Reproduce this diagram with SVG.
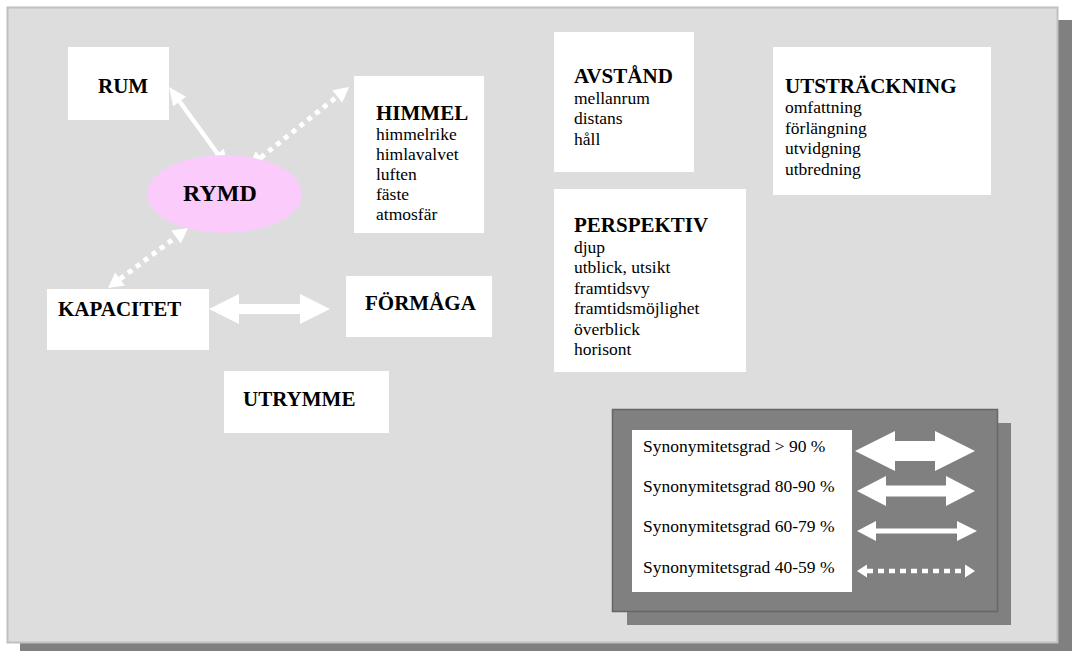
<svg xmlns="http://www.w3.org/2000/svg" width="1075" height="659" viewBox="0 0 1075 659">
<style>
.box{fill:#ffffff}
.b{font-family:"Liberation Serif","Times New Roman",serif;font-weight:bold;font-size:21px;fill:#000}
.t{font-family:"Liberation Serif","Times New Roman",serif;font-size:17.5px;fill:#000}
.arr{fill:#ffffff}
.ln{stroke:#ffffff;fill:none}
.dot{stroke:#ffffff;fill:none;stroke-width:5;stroke-dasharray:5 5}
</style>
<defs>
<marker id="hThin" markerUnits="userSpaceOnUse" markerWidth="20" markerHeight="20" viewBox="0 -10 18 20" refX="0" refY="0" orient="auto-start-reverse">
<path d="M0,-8 L18,0 L0,8 Z" fill="#ffffff"/>
</marker>
<marker id="hDot" markerUnits="userSpaceOnUse" markerWidth="20" markerHeight="20" viewBox="0 -10 15 20" refX="0" refY="0" orient="auto-start-reverse">
<path d="M0,-8 L15,0 L0,8 Z" fill="#ffffff"/>
</marker>
<marker id="hSmall" markerUnits="userSpaceOnUse" markerWidth="12" markerHeight="16" viewBox="0 -8 10 16" refX="0" refY="0" orient="auto-start-reverse">
<path d="M0,-6.5 L10,0 L0,6.5 Z" fill="#ffffff"/>
</marker>
</defs>

<!-- background panel -->
<rect x="20" y="20" width="1052" height="631" fill="#808080"/>
<rect x="7.5" y="7.5" width="1050" height="635" fill="#dddddd" stroke="#c0c0c0" stroke-width="2"/>

<g id="connectors">
<path class="ln" stroke-width="4.5" d="M179.6,101.5 L217.4,153.5" marker-start="url(#hThin)" marker-end="url(#hThin)"/>
<path class="dot" d="M260.7,157.6 L337.3,96.4" marker-start="url(#hDot)" marker-end="url(#hDot)"/>
<path class="dot" d="M120,279 L176,237" marker-start="url(#hDot)" marker-end="url(#hDot)"/>
<polygon class="arr" points="209,309 239,294 239,304 300,304 300,294 330,309 300,324 300,314 239,314 239,324"/>
</g>

<g id="node-rum">
<rect class="box" x="68" y="47" width="101" height="73"/>
<text class="b" x="98" y="93">RUM</text>
</g>

<g id="node-rymd">
<ellipse cx="224.5" cy="194" rx="77.5" ry="39" fill="#fbccfb"/>
<text class="b" x="183" y="201" style="font-size:24px">RYMD</text>
</g>

<g id="node-himmel">
<rect class="box" x="354" y="76" width="130" height="157"/>
<text class="b" x="376" y="120">HIMMEL</text>
<text class="t" x="376" y="140">himmelrike</text>
<text class="t" x="376" y="160">himlavalvet</text>
<text class="t" x="376" y="180">luften</text>
<text class="t" x="376" y="200">fäste</text>
<text class="t" x="376" y="220">atmosfär</text>
</g>

<g id="node-kapacitet">
<rect class="box" x="47" y="289" width="162" height="61"/>
<text class="b" x="58" y="316">KAPACITET</text>
</g>

<g id="node-formaga">
<rect class="box" x="346" y="276" width="146" height="61"/>
<text class="b" x="365" y="310">FÖRMÅGA</text>
</g>

<g id="node-utrymme">
<rect class="box" x="224" y="371" width="165" height="62"/>
<text class="b" x="243" y="406">UTRYMME</text>
</g>

<g id="node-avstand">
<rect class="box" x="554" y="32" width="140" height="140"/>
<text class="b" x="574" y="83">AVSTÅND</text>
<text class="t" x="574" y="104">mellanrum</text>
<text class="t" x="574" y="124">distans</text>
<text class="t" x="574" y="144.5">håll</text>
</g>

<g id="node-utstrackning">
<rect class="box" x="773" y="47" width="218" height="148"/>
<text class="b" x="785" y="93">UTSTRÄCKNING</text>
<text class="t" x="785" y="113">omfattning</text>
<text class="t" x="785" y="133.5">förlängning</text>
<text class="t" x="785" y="154">utvidgning</text>
<text class="t" x="785" y="174.5">utbredning</text>
</g>

<g id="node-perspektiv">
<rect class="box" x="554" y="189" width="192" height="183"/>
<text class="b" x="574" y="232">PERSPEKTIV</text>
<text class="t" x="574" y="253">djup</text>
<text class="t" x="574" y="273">utblick, utsikt</text>
<text class="t" x="574" y="294">framtidsvy</text>
<text class="t" x="574" y="314">framtidsmöjlighet</text>
<text class="t" x="574" y="335">överblick</text>
<text class="t" x="574" y="355">horisont</text>
</g>

<g id="legend">
<rect x="627" y="423" width="384" height="202" fill="#808080"/>
<rect x="612.5" y="409.5" width="385" height="202" fill="#808080" stroke="#666666" stroke-width="1.5"/>
<rect class="box" x="632" y="430" width="220" height="162"/>
<text class="t" x="643" y="452">Synonymitetsgrad &gt; 90 %</text>
<text class="t" x="643" y="492">Synonymitetsgrad 80-90 %</text>
<text class="t" x="643" y="532">Synonymitetsgrad 60-79 %</text>
<text class="t" x="643" y="573">Synonymitetsgrad 40-59 %</text>
<polygon class="arr" points="855,451 895,431 895,441 935,441 935,431 975,451 935,471 935,461 895,461 895,471"/>
<polygon class="arr" points="857,491 886,476 886,485.5 946,485.5 946,476 975,491 946,506 946,496.5 886,496.5 886,506"/>
<polygon class="arr" points="857,531 876,521 876,528.5 957,528.5 957,521 977,531 957,541 957,533.5 876,533.5 876,541"/>
<path class="ln" stroke-width="4.5" stroke-dasharray="6 5" d="M867,571 L965,571" marker-start="url(#hSmall)" marker-end="url(#hSmall)"/>
</g>
</svg>
